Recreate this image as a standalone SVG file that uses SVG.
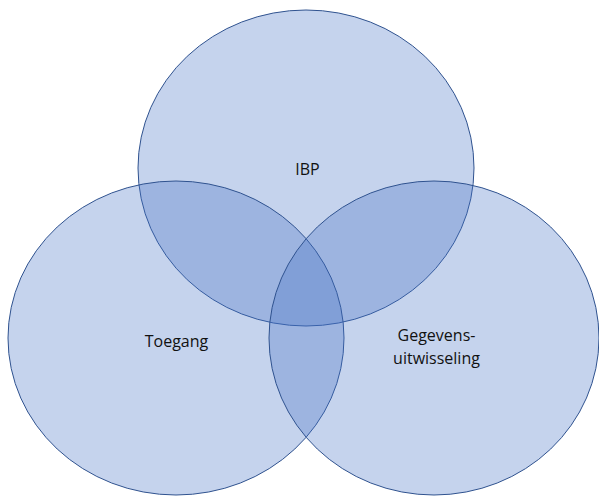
<svg xmlns="http://www.w3.org/2000/svg" width="599" height="496" viewBox="0 0 599 496">
<style>
.c{fill:#4472c4;fill-opacity:0.31;stroke:#2f528f;stroke-width:1}
.t{font-family:"Open Sans","Liberation Sans",sans-serif;font-size:16px;fill:#111;text-anchor:middle}
</style>
<rect width="599" height="496" fill="#fff"/>
<g id="ibp"><ellipse class="c" cx="306" cy="168" rx="168" ry="158"/><text class="t" x="307.5" y="175">IBP</text></g>
<g id="toegang"><ellipse class="c" cx="176" cy="338" rx="168" ry="157"/><text class="t" x="176.5" y="346.5">Toegang</text></g>
<g id="gegevens"><ellipse class="c" cx="434" cy="338" rx="165" ry="157"/><text class="t" x="436.5" y="341">Gegevens-</text><text class="t" x="436.5" y="363.5">uitwisseling</text></g>
<g id="connectors"/>
</svg>
